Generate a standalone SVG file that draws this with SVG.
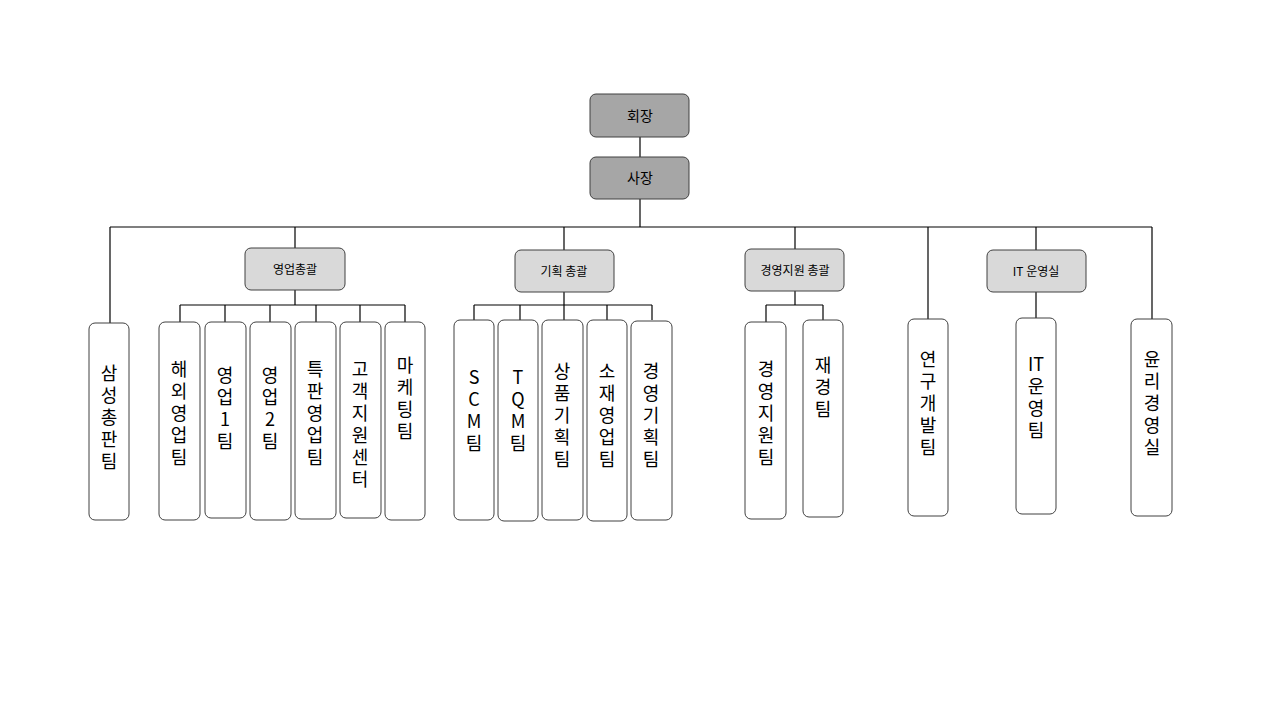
<svg xmlns="http://www.w3.org/2000/svg" width="1280" height="720" viewBox="0 0 1280 720">
<style>
.top{fill:#a6a6a6;stroke:#404040;stroke-width:1}
.mid{fill:#d9d9d9;stroke:#404040;stroke-width:1}
.leaf{fill:#fff;stroke:#404040;stroke-width:1}
text{font-family:"Noto Sans CJK KR","Liberation Sans",sans-serif;fill:#000}
.t1{font-size:14px;text-anchor:middle}
.t2{font-size:12px;text-anchor:middle}
.v{font-size:18px;text-anchor:middle}
.c line{stroke:#000;stroke-width:1.2}
</style>
<rect width="1280" height="720" fill="#fff"/>
<g class="c" id="connectors">
<line x1="640" y1="137" x2="640" y2="157"/>
<line x1="640" y1="199" x2="640" y2="227"/>
<line x1="110" y1="227" x2="1152" y2="227"/>
<line x1="110" y1="227" x2="110" y2="323"/>
<line x1="295" y1="227" x2="295" y2="248"/>
<line x1="564" y1="227" x2="564" y2="250"/>
<line x1="795" y1="227" x2="795" y2="249"/>
<line x1="928" y1="227" x2="928" y2="319"/>
<line x1="1036" y1="227" x2="1036" y2="250"/>
<line x1="1152" y1="227" x2="1152" y2="319"/>
<line x1="295" y1="290" x2="295" y2="305"/>
<line x1="180" y1="305" x2="405" y2="305"/>
<line x1="180" y1="305" x2="180" y2="322"/>
<line x1="225" y1="305" x2="225" y2="322"/>
<line x1="270" y1="305" x2="270" y2="322"/>
<line x1="316" y1="305" x2="316" y2="322"/>
<line x1="360" y1="305" x2="360" y2="322"/>
<line x1="405" y1="305" x2="405" y2="322"/>
<line x1="564" y1="292" x2="564" y2="305"/>
<line x1="474" y1="305" x2="652" y2="305"/>
<line x1="474" y1="305" x2="474" y2="320"/>
<line x1="520" y1="305" x2="520" y2="320"/>
<line x1="564" y1="305" x2="564" y2="320"/>
<line x1="607" y1="305" x2="607" y2="320"/>
<line x1="652" y1="305" x2="652" y2="320"/>
<line x1="795" y1="291" x2="795" y2="305"/>
<line x1="766" y1="305" x2="823" y2="305"/>
<line x1="766" y1="305" x2="766" y2="322"/>
<line x1="823" y1="305" x2="823" y2="320"/>
<line x1="1036" y1="292" x2="1036" y2="318"/>
</g>
<g id="n-chair"><rect class="top" x="590" y="94" width="99" height="43" rx="6"/><text class="t1" x="640" y="121">회장</text></g>
<g id="n-pres"><rect class="top" x="590" y="157" width="99" height="42" rx="6"/><text class="t1" x="640" y="183">사장</text></g>
<g id="n-sales"><rect class="mid" x="245" y="248" width="100" height="42" rx="6"/><text class="t2" x="295" y="274">영업총괄</text></g>
<g id="n-plan"><rect class="mid" x="515" y="250" width="99" height="42" rx="6"/><text class="t2" x="564" y="276">기획 총괄</text></g>
<g id="n-mgmt"><rect class="mid" x="745" y="249" width="99" height="42" rx="6"/><text class="t2" x="795" y="275">경영지원 총괄</text></g>
<g id="n-it"><rect class="mid" x="987" y="250" width="99" height="42" rx="6"/><text class="t2" x="1036" y="276">IT 운영실</text></g>

<g id="n1"><rect class="leaf" x="89" y="323" width="40" height="197" rx="6"/><text class="v" x="109" y="380"><tspan x="109">삼</tspan><tspan x="109" dy="22">성</tspan><tspan x="109" dy="22">총</tspan><tspan x="109" dy="22">판</tspan><tspan x="109" dy="22">팀</tspan></text></g>
<g id="n2"><rect class="leaf" x="159" y="322" width="41" height="198" rx="6"/><text class="v" x="179" y="376"><tspan x="179">해</tspan><tspan x="179" dy="22">외</tspan><tspan x="179" dy="22">영</tspan><tspan x="179" dy="22">업</tspan><tspan x="179" dy="22">팀</tspan></text></g>
<g id="n3"><rect class="leaf" x="205" y="322" width="41" height="196" rx="6"/><text class="v" x="225" y="382"><tspan x="225">영</tspan><tspan x="225" dy="22">업</tspan><tspan x="225" dy="22">1</tspan><tspan x="225" dy="22">팀</tspan></text></g>
<g id="n4"><rect class="leaf" x="250" y="322" width="41" height="198" rx="6"/><text class="v" x="270" y="382"><tspan x="270">영</tspan><tspan x="270" dy="22">업</tspan><tspan x="270" dy="22">2</tspan><tspan x="270" dy="22">팀</tspan></text></g>
<g id="n5"><rect class="leaf" x="295" y="322" width="41" height="197" rx="6"/><text class="v" x="315" y="376"><tspan x="315">특</tspan><tspan x="315" dy="22">판</tspan><tspan x="315" dy="22">영</tspan><tspan x="315" dy="22">업</tspan><tspan x="315" dy="22">팀</tspan></text></g>
<g id="n6"><rect class="leaf" x="340" y="322" width="41" height="196" rx="6"/><text class="v" x="360" y="376"><tspan x="360">고</tspan><tspan x="360" dy="22">객</tspan><tspan x="360" dy="22">지</tspan><tspan x="360" dy="22">원</tspan><tspan x="360" dy="22">센</tspan><tspan x="360" dy="22">터</tspan></text></g>
<g id="n7"><rect class="leaf" x="385" y="322" width="40" height="198" rx="6"/><text class="v" x="405" y="372"><tspan x="405">마</tspan><tspan x="405" dy="22">케</tspan><tspan x="405" dy="22">팅</tspan><tspan x="405" dy="22">팀</tspan></text></g>

<g id="n8"><rect class="leaf" x="454" y="320" width="40" height="200" rx="6"/><text class="v" x="474" y="384"><tspan x="474">S</tspan><tspan x="474" dy="22">C</tspan><tspan x="474" dy="22">M</tspan><tspan x="474" dy="22">팀</tspan></text></g>
<g id="n9"><rect class="leaf" x="498" y="320" width="40" height="201" rx="6"/><text class="v" x="518" y="384"><tspan x="518">T</tspan><tspan x="518" dy="22">Q</tspan><tspan x="518" dy="22">M</tspan><tspan x="518" dy="22">팀</tspan></text></g>
<g id="n10"><rect class="leaf" x="542" y="320" width="41" height="200" rx="6"/><text class="v" x="562" y="378"><tspan x="562">상</tspan><tspan x="562" dy="22">품</tspan><tspan x="562" dy="22">기</tspan><tspan x="562" dy="22">획</tspan><tspan x="562" dy="22">팀</tspan></text></g>
<g id="n11"><rect class="leaf" x="587" y="320" width="40" height="201" rx="6"/><text class="v" x="607" y="378"><tspan x="607">소</tspan><tspan x="607" dy="22">재</tspan><tspan x="607" dy="22">영</tspan><tspan x="607" dy="22">업</tspan><tspan x="607" dy="22">팀</tspan></text></g>
<g id="n12"><rect class="leaf" x="631" y="321" width="41" height="199" rx="6"/><text class="v" x="651" y="378"><tspan x="651">경</tspan><tspan x="651" dy="22">영</tspan><tspan x="651" dy="22">기</tspan><tspan x="651" dy="22">획</tspan><tspan x="651" dy="22">팀</tspan></text></g>

<g id="n13"><rect class="leaf" x="745" y="322" width="41" height="197" rx="6"/><text class="v" x="766" y="376"><tspan x="766">경</tspan><tspan x="766" dy="22">영</tspan><tspan x="766" dy="22">지</tspan><tspan x="766" dy="22">원</tspan><tspan x="766" dy="22">팀</tspan></text></g>
<g id="n14"><rect class="leaf" x="803" y="320" width="40" height="197" rx="6"/><text class="v" x="823" y="372"><tspan x="823">재</tspan><tspan x="823" dy="22">경</tspan><tspan x="823" dy="22">팀</tspan></text></g>
<g id="n15"><rect class="leaf" x="908" y="319" width="40" height="197" rx="6"/><text class="v" x="928" y="366"><tspan x="928">연</tspan><tspan x="928" dy="22">구</tspan><tspan x="928" dy="22">개</tspan><tspan x="928" dy="22">발</tspan><tspan x="928" dy="22">팀</tspan></text></g>
<g id="n16"><rect class="leaf" x="1016" y="318" width="40" height="196" rx="6"/><text class="v" x="1036" y="371"><tspan x="1036">IT</tspan><tspan x="1036" dy="22">운</tspan><tspan x="1036" dy="22">영</tspan><tspan x="1036" dy="22">팀</tspan></text></g>
<g id="n17"><rect class="leaf" x="1131" y="319" width="41" height="197" rx="6"/><text class="v" x="1152" y="366"><tspan x="1152">윤</tspan><tspan x="1152" dy="22">리</tspan><tspan x="1152" dy="22">경</tspan><tspan x="1152" dy="22">영</tspan><tspan x="1152" dy="22">실</tspan></text></g>
</svg>
